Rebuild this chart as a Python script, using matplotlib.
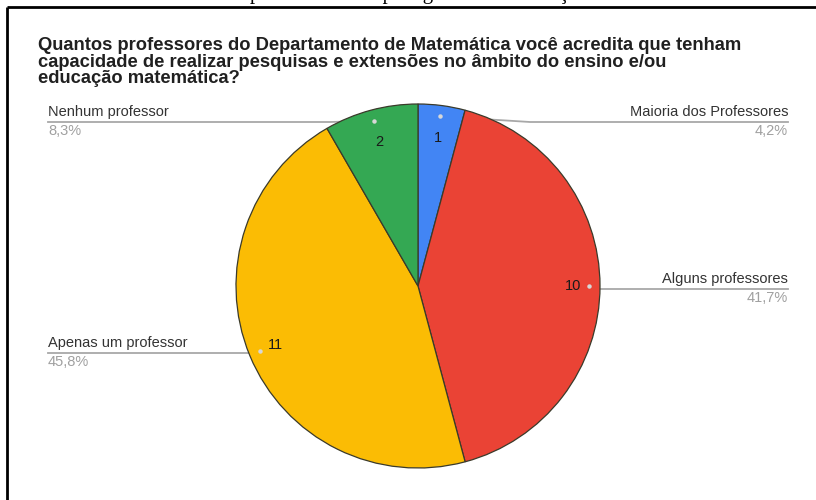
import numpy as np
import matplotlib
matplotlib.use("Agg")
import matplotlib.pyplot as plt

# data
categories = ["Maioria dos Professores", "Alguns professores", "Apenas um professor", "Nenhum professor"]
counts = [1, 10, 11, 2]
pct_labels = ["4,2%", "41,7%", "45,8%", "8,3%"]
colors = ["#4285F4", "#EA4335", "#FBBC04", "#34A853"]

title = ("Quantos professores do Departamento de Matemática você acredita que tenham\n"
         "capacidade de realizar pesquisas e extensões no âmbito do ensino e/ou\n"
         "educação matemática?")
caption_head = "Gráfico 5 – Visão dos alunos sobre os docentes "
caption_tail = "para o curso de pela gestão da Educação Matemática"

W, H = 816, 500
plt.rcParams['font.family'] = ['Liberation Sans', 'DejaVu Sans']

fig = plt.figure(figsize=(W / 100, H / 100), dpi=100)
ax = fig.add_axes([0, 0, 1, 1])

def py(y):
    # pixel row (from top) to data y
    return H - y

cx, cy, R = 418, py(286), 182

wedges, _ = ax.pie(counts, colors=colors, startangle=90, counterclock=False,
                   center=(cx, cy), radius=R, frame=True,
                   wedgeprops=dict(edgecolor="#3a3a2a", linewidth=0.9))
for w in wedges:
    w.set_zorder(3)
ax.set_xlim(0, W)
ax.set_ylim(0, H)
ax.set_aspect("equal")
ax.axis("off")

# frame border (cut on right / bottom)
ax.plot([7, 7], [py(7), 0], color="black", lw=2, zorder=5, solid_capstyle="butt")
ax.plot([7, W], [py(7), py(7)], color="black", lw=2, zorder=5, solid_capstyle="butt")

# caption above the frame, cut off by the top edge (only descenders show)
ax.text(250, py(-1.5), caption_head, family=["Liberation Serif"], fontsize=15,
        ha="right", va="baseline", color="black", clip_on=False)
ax.text(250, py(-1.5), caption_tail, family=["Liberation Serif"], fontsize=15,
        ha="left", va="baseline", color="black", clip_on=False)

ax.text(38, py(37), title, fontsize=13.2, fontweight="bold", color="#202020",
        ha="left", va="top", linespacing=0.98)

# slice mid angles (clockwise from 12 o'clock)
total = sum(counts)
cum = np.cumsum([0] + counts)
mids = [(cum[i] + counts[i] / 2) / total * 2 * np.pi for i in range(len(counts))]

num_r = [0.82, 0.85, 0.85, 0.82]
dot_r = 0.94
# label anchors: (x_end of underline, y of underline, side)
anchors = [(788, 122, "right"), (788, 289, "right"), (48, 353, "left"), (48, 122, "left")]
elbows = [(530, 122), (600, 289), (262, 353), (330, 122)]

for i, a in enumerate(mids):
    dx, dy = np.sin(a), np.cos(a)
    ax.text(cx + num_r[i] * R * dx, cy + num_r[i] * R * dy, str(counts[i]),
            fontsize=10.5, color="#1a1a1a", ha="center", va="center", zorder=6)
    px_, py_ = cx + dot_r * R * dx, cy + dot_r * R * dy
    ax.plot(px_, py_, "o", ms=2.2, color="#d8d8d8", zorder=6)
    ex, ey = elbows[i]
    lx, ly, side = anchors[i]
    ax.plot([px_, ex, lx], [py_, py(ey), py(ly)], color="#a8a8a8", lw=1.3, zorder=1)
    ax.text(lx, py(ly) + 3, categories[i], fontsize=10.5, color="#333333",
            ha=side, va="bottom")
    ax.text(lx, py(ly) - 2, pct_labels[i], fontsize=10.5, color="#a0a0a0",
            ha=side, va="top")

fig.savefig("out.png", dpi=100)
